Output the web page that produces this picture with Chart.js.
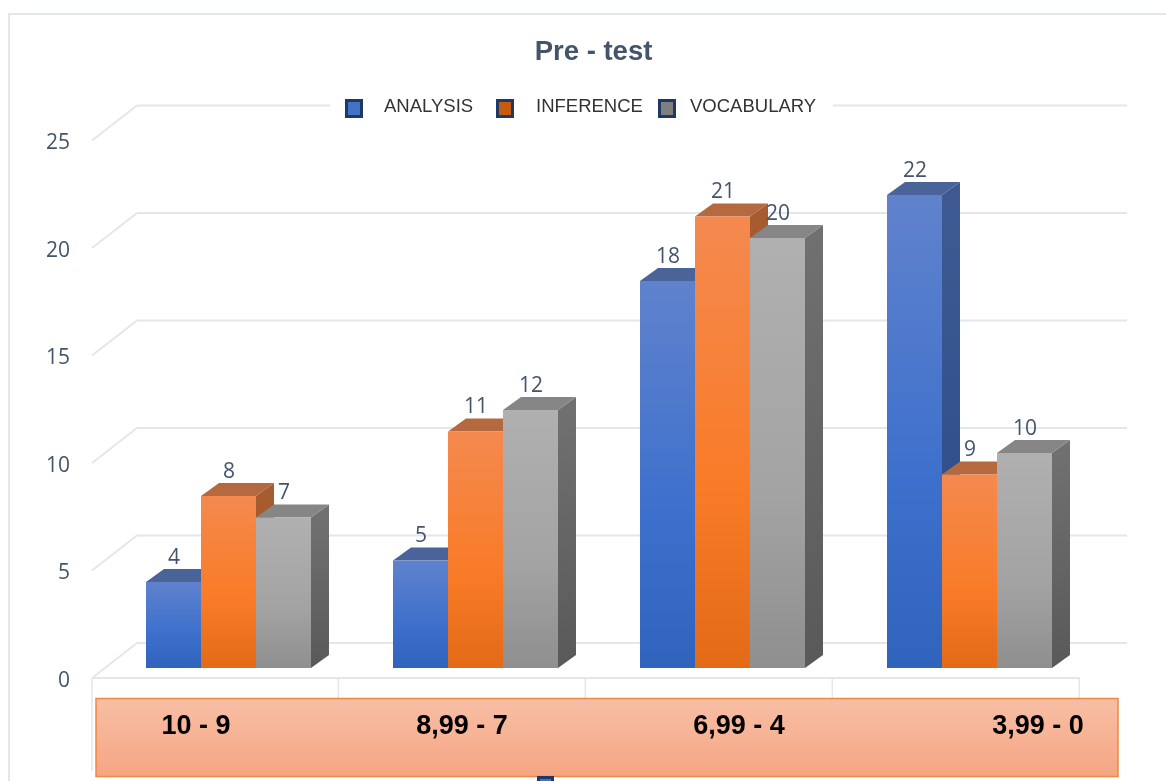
<!DOCTYPE html>
<html>
<head>
<meta charset="utf-8">
<title>Pre - test</title>
<script src="https://cdn.jsdelivr.net/npm/chart.js@4/dist/chart.umd.min.js"></script>
<style>
  html, body { margin: 0; padding: 0; background: #fff; }
  canvas { display: block; }
</style>
</head>
<body>
<canvas id="chart" width="1166" height="781"></canvas>
<script>
const chartTitle = 'Pre - test';
const categories = ['10 - 9', '8,99 - 7', '6,99 - 4', '3,99 - 0'];
const seriesNames = ['ANALYSIS', 'INFERENCE', 'VOCABULARY'];
const analysis = [4, 5, 18, 22];
const inference = [8, 11, 21, 9];
const vocabulary = [7, 12, 20, 10];
const yTicks = [0, 5, 10, 15, 20, 25];

// top -> bottom of front face, then side and lid colours
const faces = [
  { front: ['#6082cc', '#3d70cc', '#2f63bc'], side: ['#3f5a92', '#264a8a'], lid: '#4a6398', key: '#4472c4' },
  { front: ['#f4894f', '#f97b27', '#e36a17'], side: ['#a65c30', '#a0500f'], lid: '#b5693f', key: '#c55a11' },
  { front: ['#b0b0b0', '#a3a3a3', '#8f8f8f'], side: ['#707070', '#595959'], lid: '#868686', key: '#7f7f7f' }
];

const gridColor = '#e4e6ee';
const textColor = '#44546a';
// tick labels sit a little under the front plane of the box
const frontLift = -3;
const wallShift = { x: 45, y: -35 };
const barShift = { x: 13, y: -13 };
const barDepth = { x: 18, y: -13 };
const labelCentres = [196, 462, 739, 1038];
const legendKeys = [345, 496, 658];
const legendTexts = [384, 536, 690];

function frontFill(seriesIndex) {
  return (context) => {
    const { chart, raw } = context;
    if (!chart.chartArea || raw === undefined) return faces[seriesIndex].front[1];
    const y = chart.scales.y;
    const g = chart.ctx.createLinearGradient(0, y.getPixelForValue(raw), 0, y.getPixelForValue(0));
    const stops = faces[seriesIndex].front;
    g.addColorStop(0, stops[0]);
    g.addColorStop(0.6, stops[1]);
    g.addColorStop(1, stops[2]);
    return g;
  };
}

function line(ctx, x1, y1, x2, y2) {
  ctx.beginPath();
  ctx.moveTo(x1, y1);
  ctx.lineTo(x2, y2);
  ctx.stroke();
}

function poly(ctx, points, fill) {
  ctx.beginPath();
  points.forEach((p, i) => (i ? ctx.lineTo(p[0], p[1]) : ctx.moveTo(p[0], p[1])));
  ctx.closePath();
  ctx.fillStyle = fill;
  ctx.fill();
}

// frame, walls and floor of the 3D box, behind the bars
const wallsPlugin = {
  id: 'walls',
  beforeDraw(chart) {
    const { ctx, scales: { x, y }, chartArea: area } = chart;
    const floor = area.bottom + frontLift;
    ctx.save();
    ctx.strokeStyle = gridColor;
    ctx.lineWidth = 2;
    ctx.beginPath();
    ctx.moveTo(9, 781);
    ctx.lineTo(9, 14);
    ctx.lineTo(1166, 14);
    ctx.stroke();
    yTicks.forEach((tick) => {
      const py = y.getPixelForValue(tick) + frontLift;
      line(ctx, area.left, py, area.left + wallShift.x, py + wallShift.y);
      line(ctx, area.left + wallShift.x, py + wallShift.y, area.right + wallShift.x + 2, py + wallShift.y);
    });
    line(ctx, area.left, floor, area.right, floor);
    // category separators run down behind the label box
    ctx.lineWidth = 1.5;
    for (let i = 0; i <= categories.length; i++) {
      const px = x.getPixelForValue(i - 0.5) - (i ? 0.7 : 0);
      line(ctx, px, floor, px, i === 0 ? 771 : 698);
    }
    ctx.restore();
  }
};

// bars go blue first so each side face ends up behind the next bar
const barsPlugin = {
  id: 'bars3d',
  beforeDatasetsDraw(chart) {
    const { ctx, scales: { y } } = chart;
    const d = barDepth;
    ctx.save();
    ctx.translate(barShift.x, barShift.y);
    chart.data.datasets.forEach((set, i) => {
      const meta = chart.getDatasetMeta(i);
      meta.data.forEach((bar) => {
        const right = bar.x + bar.width / 2;
        const left = bar.x - bar.width / 2;
        const base = y.getPixelForValue(0);
        const g = ctx.createLinearGradient(0, bar.y, 0, base);
        g.addColorStop(0, faces[i].side[0]);
        g.addColorStop(1, faces[i].side[1]);
        poly(ctx, [[right, bar.y], [right + d.x, bar.y + d.y], [right + d.x, base + d.y], [right, base]], g);
        poly(ctx, [[left, bar.y], [left + d.x, bar.y + d.y], [right + d.x, bar.y + d.y], [right, bar.y]], faces[i].lid);
      });
      meta.controller.draw();
    });
    ctx.restore();
    return false;
  }
};

const textPlugin = {
  id: 'chartText',
  afterDraw(chart) {
    const { ctx } = chart;
    ctx.save();
    ctx.textBaseline = 'middle';

    // value labels
    ctx.textAlign = 'center';
    ctx.fillStyle = textColor;
    ctx.font = '21px "Open Sans"';
    chart.data.datasets.forEach((set, i) => {
      chart.getDatasetMeta(i).data.forEach((bar, j) => {
        ctx.fillText(set.data[j], bar.x + barShift.x + 0.5, bar.y + barShift.y - 24);
      });
    });

    // title
    ctx.font = 'bold 27.5px "Liberation Sans"';
    ctx.fillText(chartTitle, 593.5, 52);

    // legend, pasted over the top grid line
    ctx.fillStyle = '#fff';
    ctx.fillRect(330, 96, 503, 24);
    ctx.textAlign = 'left';
    seriesNames.forEach((name, i) => {
      ctx.fillStyle = faces[i].key;
      ctx.strokeStyle = '#1f3864';
      ctx.lineWidth = 3;
      ctx.fillRect(legendKeys[i] + 1, 100, 16, 17);
      ctx.strokeRect(legendKeys[i] + 1.5, 100.5, 15, 16);
      ctx.fillStyle = '#333';
      ctx.font = '18.5px "Liberation Sans"';
      ctx.fillText(name, legendTexts[i], 107);
    });

    // label box under the axis
    const box = ctx.createLinearGradient(0, 698, 0, 777);
    box.addColorStop(0, '#f8bfa6');
    box.addColorStop(1, '#f5a582');
    ctx.fillStyle = box;
    ctx.fillRect(96, 698.5, 1022, 78);
    ctx.strokeStyle = '#f0883f';
    ctx.lineWidth = 1.5;
    ctx.strokeRect(96, 698.5, 1022, 78);
    ctx.textAlign = 'center';
    ctx.fillStyle = '#000';
    ctx.font = 'bold 27px "Liberation Sans"';
    categories.forEach((name, i) => ctx.fillText(name, labelCentres[i], 727));

    // clipped key peeking in at the bottom of the page
    ctx.fillStyle = faces[0].key;
    ctx.fillRect(538, 777, 15, 4);
    ctx.strokeStyle = '#1f3864';
    ctx.lineWidth = 3;
    ctx.strokeRect(538.5, 777.5, 14, 8);
    ctx.restore();
  }
};

new Chart(document.getElementById('chart'), {
  type: 'bar',
  data: {
    labels: categories,
    datasets: [analysis, inference, vocabulary].map((values, i) => ({
      label: seriesNames[i],
      data: values,
      backgroundColor: frontFill(i),
      borderWidth: 0,
      clip: false
    }))
  },
  options: {
    responsive: false,
    animation: false,
    layout: { padding: { top: 143.5, bottom: 100, left: 0, right: 86 } },
    categoryPercentage: 0.668,
    barPercentage: 1,
    plugins: {
      legend: { display: false },
      title: { display: false },
      tooltip: { enabled: false }
    },
    scales: {
      x: {
        grid: { display: false },
        border: { display: false },
        ticks: { display: false },
        afterFit: (axis) => { axis.height = 0; }
      },
      y: {
        min: 0,
        max: 25,
        grid: { display: false, drawTicks: false },
        border: { display: false },
        afterBuildTicks: (axis) => { axis.ticks = yTicks.map((value) => ({ value })); },
        afterFit: (axis) => { axis.width = 92; },
        ticks: {
          color: textColor,
          padding: 22,
          font: { family: '"Open Sans"', size: 21 }
        }
      }
    }
  },
  plugins: [wallsPlugin, barsPlugin, textPlugin]
});
</script>
</body>
</html>
